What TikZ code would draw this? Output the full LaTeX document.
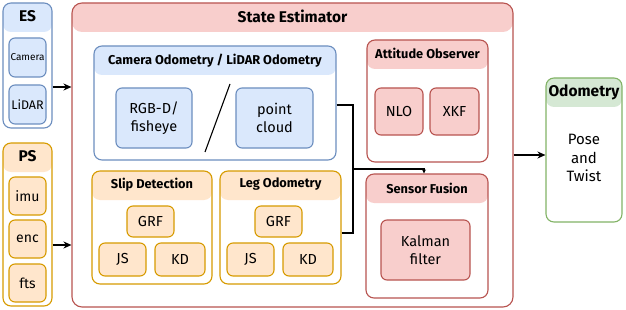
\documentclass[tikz,border=0pt]{standalone}
\usepackage{fontspec}
\setmainfont{Fira Sans}
\usetikzlibrary{arrows.meta,positioning}

\definecolor{esline}{HTML}{6C8EBF}
\definecolor{esfill}{HTML}{DAE8FC}
\definecolor{psline}{HTML}{D79B00}
\definecolor{psfill}{HTML}{FFE6CC}
\definecolor{seline}{HTML}{B85450}
\definecolor{sefill}{HTML}{F8CECC}
\definecolor{odline}{HTML}{82B366}
\definecolor{odfill}{HTML}{D5E8D4}

\begin{document}
\begin{tikzpicture}[x=1pt, y=-1pt,
    grp/.style={draw=#1line, fill=white, rounded corners=8pt, line width=1.1pt,
        path picture={\fill[#1fill] (path picture bounding box.north west) rectangle ([yshift=-29pt]path picture bounding box.north east);}},
    item/.style={draw=#1line, fill=#1fill, rounded corners=6pt, line width=1.1pt, align=center, inner sep=0pt, font=\fontsize{14.5}{18.5}\selectfont},
    head/.style={font=\fontsize{12.8}{15}\selectfont\bfseries},
    bighead/.style={font=\fontsize{15.5}{18}\selectfont\bfseries},
    arrow/.style={-{Stealth[length=8pt,width=7pt]}, line width=1.1pt},
    link/.style={line width=1.1pt}
]
\useasboundingbox (0,0) rectangle (626,310);

% sensors
\node[grp=es, minimum width=49pt, minimum height=125pt] (es) at (27.5,65.5) {};
\node[bighead] (es-t) at ([yshift=-14pt]es.north) {ES};
\node[item=es, minimum width=37pt, minimum height=39pt, font=\fontsize{10}{12}\selectfont] (camera) at (27.5,57.5) {Camera};
\node[item=es, minimum width=37pt, minimum height=39pt, font=\fontsize{12.5}{14}\selectfont] (lidar) at (27.5,104.5) {LiDAR};

\node[grp=ps, minimum width=49pt, minimum height=163pt] (ps) at (27.5,224.5) {};
\node[bighead] (ps-t) at ([yshift=-14pt]ps.north) {PS};
\node[item=ps, minimum width=37pt, minimum height=38pt, font=\fontsize{14}{16}\selectfont] (imu) at (27.5,196) {imu};
\node[item=ps, minimum width=37pt, minimum height=38pt, font=\fontsize{14}{16}\selectfont] (enc) at (27.5,239) {enc};
\node[item=ps, minimum width=37pt, minimum height=38pt, font=\fontsize{14}{16}\selectfont] (fts) at (27.5,283) {fts};

% state estimator
\node[grp=se, rounded corners=10pt, minimum width=441pt, minimum height=304pt] (se) at (292.5,155) {};
\node[bighead] (se-t) at ([yshift=-14pt]se.north) {State Estimator};

\node[grp=es, minimum width=242pt, minimum height=114pt] (cam) at (215,103) {};
\node[head] (cam-t) at ([yshift=-15pt]cam.north) {Camera Odometry / LiDAR Odometry};
\node[item=es, minimum width=76pt, minimum height=60pt] (rgbd) at (154,118) {RGB-D/\\fisheye};
\node[item=es, minimum width=77pt, minimum height=60pt] (pcl) at (274.5,118) {point\\cloud};
\draw[line width=1.1pt] (230,84) -- (205,152);

\node[grp=ps, minimum width=120pt, minimum height=113pt] (slip) at (152,227.5) {};
\node[head] (slip-t) at ([yshift=-14pt]slip.north) {Slip Detection};
\node[item=ps, minimum width=47pt, minimum height=31pt] (slip-grf) at (150.5,221.5) {GRF};
\node[item=ps, minimum width=47pt, minimum height=33pt] (slip-js) at (122.5,259.5) {JS};
\node[item=ps, minimum width=50pt, minimum height=33pt] (slip-kd) at (180,259.5) {KD};

\node[grp=ps, minimum width=121pt, minimum height=113pt] (leg) at (280.5,227.5) {};
\node[head] (leg-t) at ([yshift=-14pt]leg.north) {Leg Odometry};
\node[item=ps, minimum width=47pt, minimum height=31pt] (leg-grf) at (278.5,221.5) {GRF};
\node[item=ps, minimum width=47pt, minimum height=33pt] (leg-js) at (250.5,259.5) {JS};
\node[item=ps, minimum width=50pt, minimum height=33pt] (leg-kd) at (308,259.5) {KD};

\node[grp=se, minimum width=121pt, minimum height=122pt] (att) at (427.5,101) {};
\node[head] (att-t) at ([yshift=-14pt]att.north) {Attitude Observer};
\node[item=se, minimum width=48pt, minimum height=47pt] (nlo) at (399,111.5) {NLO};
\node[item=se, minimum width=49pt, minimum height=47pt] (xkf) at (454.5,111.5) {XKF};

\node[grp=se, minimum width=122pt, minimum height=124pt] (sf) at (427,236) {};
\node[head] (sf-t) at ([yshift=-15pt]sf.north) {Sensor Fusion};
\node[item=se, minimum width=89pt, minimum height=60pt] (kf) at (425.5,250) {Kalman\\filter};

% output
\node[grp=od, minimum width=76pt, minimum height=144pt] (odom) at (584,150) {};
\node[bighead] (odom-t) at ([yshift=-14.5pt]odom.north) {Odometry};
\node[align=center, font=\fontsize{15}{18.5}\selectfont] (pose) at (584,158) {Pose\\and\\Twist};

% connections
\coordinate (j) at (353,169);
\draw[arrow] ([yshift=-21.5pt]es.east) -- ([yshift=-21.5pt]es.east -| se.west);
\draw[arrow] ([yshift=-20.5pt]ps.east) -- ([yshift=-20.5pt]ps.east -| se.west);
\draw[arrow] (se.east) -- (se.east -| odom.west);
\draw[link] ([yshift=-2pt]cam.east) -| (j);
\draw[link] ([yshift=-5.5pt]leg.east) -| (j);
\draw[line width=1.1pt, -{Stealth[length=4pt,width=4pt]}] (j) -| ([xshift=-3pt]sf.north);
\end{tikzpicture}
\end{document}
